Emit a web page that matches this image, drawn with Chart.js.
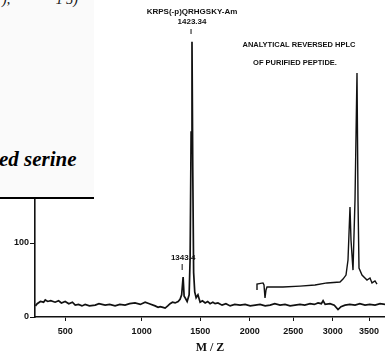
<!DOCTYPE html>
<html><head><meta charset="utf-8">
<script src="https://cdn.jsdelivr.net/npm/chart.js@4/dist/chart.umd.min.js"></script>
<style>
html,body{margin:0;padding:0;background:#fff;}
#wrap{position:relative;width:385px;height:355px;overflow:hidden;}
canvas{position:absolute;left:0;top:0;}
#box{position:absolute;left:0;top:0;width:94px;height:197px;background:#fafafa;border-bottom:2px solid #000;overflow:hidden;}
#top{position:absolute;left:2px;top:-8px;font:italic 14px 'Liberation Serif',serif;color:#111;white-space:pre;}
#cap{position:absolute;left:-1px;top:147px;font:bold italic 21px 'Liberation Serif',serif;color:#000;white-space:pre;}
</style></head>
<body><div id="wrap"><canvas id="c" width="385" height="355"></canvas>
<div id="box"><div id="top">),     ·       1 3)</div><div id="cap">ed serine</div></div></div>
<script>
// Mass spectrum (m/z vs intensity)
const mzValues = [352,360,375,390,398,410,425,447,465,480,500,520,540,556,575,595,614,640,676,700,740,770,807,840,877,910,950,990,1027,1060,1106,1130,1147,1170,1188,1210,1230,1250,1273,1299,1316,1330,1343,1352,1361,1379,1397,1406,1415,1423,1430,1438,1448,1461,1478,1498,1520,1546,1570,1593,1620,1642,1670,1711,1750,1793,1840,1896,1950,2004,2060,2113,2170,2226,2280,2341,2400,2460,2520,2581,2640,2706,2760,2808,2850,2873,2900,2964,3020,3070,3110,3165,3230,3303,3370,3443,3510,3587,3660,3733];
const intensities = [15,18,21,20,23,21,22,20,22,19,21,18,20,16,17,15,17,15,16,18,16,17,15,17,16,18,19,17,20,18,15,13,14,13,12,15,18,20,19,21,24,30,54,28,26,21,30,80,250,372,200,60,34,26,30,20,22,19,21,18,20,18,19,16,18,15,17,16,17,15,16,17,15,16,18,16,17,15,16,17,16,18,17,19,18,22,17,18,16,10,14,16,17,16,18,16,17,16,18,17];
// Inset: analytical reversed-phase HPLC trace (time, absorbance)
const hplcTime = [0,0,1.5,1.75,2.0,2.25,2.5,6.5,10.75,14.5,17.5,20.75,21.5,22.25,22.75,23.25,23.5,24,24.5,25,25.25,25.5,26.25,27.5,28.25,28.75,29.5,30];
const hplcAbsorbance = [3.6,6.2,6.7,5.8,0,3.6,4.9,4.9,5.3,5.8,6.7,7.1,8.4,10.2,16.9,40.4,25.8,12.4,43.6,100,43.6,13.3,10.2,8,8.9,6.7,7.6,6.2];
const xTickValues = [500,1000,1500,2000,2500,3000,3500];
const yTickLabels = [0,100];
const peakLabels = [
  {mz:1423.34, lines:['KRPS(-p)QRHGSKY-Am','1423.34'], ys:[12,22], dash:[29,34]},
  {mz:1343.4, lines:['1343.4'], ys:[258], dash:[264,270]}
];
const insetText = ['ANALYTICAL REVERSED HPLC','OF PURIFIED PEPTIDE.'];

const ink = '#111';
const tickFont = {family:"'Liberation Sans', Arial, sans-serif", size:9, weight:'bold'};

const labelPlugin = {
  id:'labels',
  afterDatasetsDraw(chart){
    const ctx = chart.ctx, xs = chart.scales.x, x2 = chart.scales.x2, y2 = chart.scales.y2;
    ctx.save();
    ctx.fillStyle = ink; ctx.strokeStyle = ink; ctx.textAlign='center'; ctx.textBaseline='middle';
    ctx.font = "bold 8px 'Liberation Sans Narrow','Liberation Sans',Arial,sans-serif";
    peakLabels.forEach(p=>{
      const px = xs.getPixelForValue(Math.sqrt(p.mz));
      p.lines.forEach((t,i)=>ctx.fillText(t, px, p.ys[i]));
      ctx.lineWidth=1; ctx.beginPath(); ctx.moveTo(px-1,p.dash[0]); ctx.lineTo(px-1,p.dash[1]); ctx.stroke();
    });
    ctx.font = "bold 7.5px 'Liberation Sans Narrow','Liberation Sans',Arial,sans-serif";
    const cx = x2.getPixelForValue(10.5);
    ctx.fillText(insetText[0], cx, y2.getPixelForValue(112.4));
    ctx.fillText(insetText[1], cx-4, y2.getPixelForValue(104.4));
    ctx.restore();
  }
};

new Chart(document.getElementById('c'), {
  type:'line',
  data:{datasets:[
    {data: mzValues.map((m,i)=>({x:Math.sqrt(m), y:intensities[i]})), borderColor:ink, borderWidth:1.7, pointRadius:0, tension:0, xAxisID:'x', yAxisID:'y'},
    {data: hplcTime.map((t,i)=>({x:t, y:hplcAbsorbance[i]})), borderColor:ink, borderWidth:1.4, pointRadius:0, tension:0, xAxisID:'x2', yAxisID:'y2'}
  ]},
  options:{
    responsive:false, animation:false,
    layout:{padding:{top:21,left:0,right:0,bottom:0}},
    plugins:{legend:{display:false}, tooltip:{enabled:false}},
    scales:{
      x:{type:'linear', min:Math.sqrt(350), max:Math.sqrt(3733),
        afterBuildTicks(s){ s.ticks = xTickValues.map(v=>({value:Math.sqrt(v)})); },
        afterFit(s){ s.height = 38; },
        ticks:{font:tickFont, color:ink, padding:5, maxRotation:0, autoSkip:false,
          callback(v){ return Math.round(v*v); }},
        grid:{drawOnChartArea:false, drawTicks:true, tickLength:4, color:ink, lineWidth:1},
        border:{display:true, color:ink, width:1.6},
        title:{display:true, text:'M / Z', color:ink, font:{family:"'Liberation Serif',serif", size:12, weight:'bold'}, padding:{top:2,bottom:0}}
      },
      y:{type:'linear', min:0, max:400,
        afterBuildTicks(s){ s.ticks = yTickLabels.map(v=>({value:v})); },
        afterFit(s){ s.width = 35; },
        ticks:{font:tickFont, color:ink, padding:1},
        grid:{drawOnChartArea:false, drawTicks:true, tickLength:5, color:ink, lineWidth:1},
        border:{display:true, color:ink, width:1.6}
      },
      x2:{type:'linear', display:false, min:-55.5, max:32},
      y2:{type:'linear', display:false, min:-8.44, max:123.1}
    }
  },
  plugins:[labelPlugin]
});
</script></body></html>
